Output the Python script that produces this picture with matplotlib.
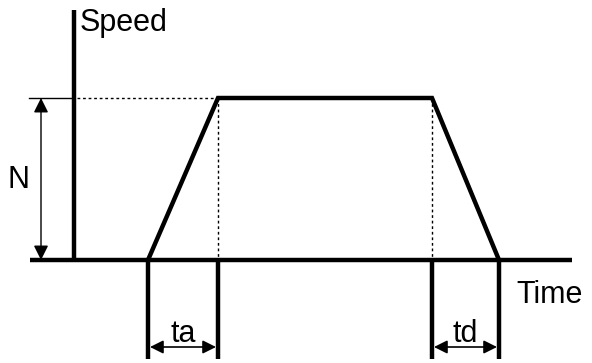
import matplotlib
matplotlib.use("Agg")
import matplotlib.pyplot as plt

# Data (x in time units, y in speed units; baseline speed = 0)
profile_time = [148, 218, 432, 499]
profile_speed = [0, 162, 162, 0]
speed_N = 162
axis_time0 = 74
ta_bounds = [148, 218]
td_bounds = [432, 499]
labels = {"speed": "Speed", "time": "Time", "N": "N", "ta": "ta", "td": "td"}

W, H = 592, 363
fig = plt.figure(figsize=(W / 100, H / 100), dpi=100)
ax = fig.add_axes([0, 0, 1, 1])
ax.set_xlim(0, W)
ax.set_ylim(260 - H, 260)
ax.axis("off")

font = dict(family=["Liberation Sans", "DejaVu Sans"], fontsize=22, color="black")
thick = 3.2

# axes
ax.plot([axis_time0, axis_time0], [0, 250], color="black", lw=thick, solid_capstyle="butt")
ax.plot([30, 572], [0, 0], color="black", lw=thick, solid_capstyle="butt")

# profile
ax.plot(profile_time, profile_speed, color="black", lw=thick, solid_joinstyle="miter")

# dotted guides
ax.plot([axis_time0 + 3, profile_time[1]], [speed_N, speed_N], color="black", lw=1, ls=(0, (2, 2)))
ax.plot([profile_time[1], profile_time[1]], [speed_N, 0], color="black", lw=1, ls=(0, (2, 2)))
ax.plot([profile_time[2], profile_time[2]], [speed_N, 0], color="black", lw=1, ls=(0, (2, 2)))

# N dimension
ax.plot([29, axis_time0], [speed_N, speed_N], color="black", lw=1)
ax.annotate("", xy=(41, speed_N), xytext=(41, 0),
            arrowprops=dict(arrowstyle="<|-|>", color="black", lw=1, mutation_scale=22, shrinkA=0, shrinkB=0))
ax.text(19, 80, labels["N"], ha="center", va="center", **font)

# ta / td extension lines and arrows
for bounds, lab in [(ta_bounds, labels["ta"]), (td_bounds, labels["td"])]:
    for b in bounds:
        ax.plot([b, b], [0, -99], color="black", lw=thick, solid_capstyle="butt")
    ax.annotate("", xy=(bounds[0] + 2, -87), xytext=(bounds[1] - 2, -87),
                arrowprops=dict(arrowstyle="<|-|>", color="black", lw=1.2, mutation_scale=20, shrinkA=0, shrinkB=0))
    ax.text((bounds[0] + bounds[1]) / 2, -82, lab, ha="center", va="baseline", **font)

ax.text(80, 252, labels["speed"], ha="left", va="top", **font)
ax.text(516, -35, labels["time"], ha="left", va="center", **font)

fig.savefig("out.png", dpi=100)
